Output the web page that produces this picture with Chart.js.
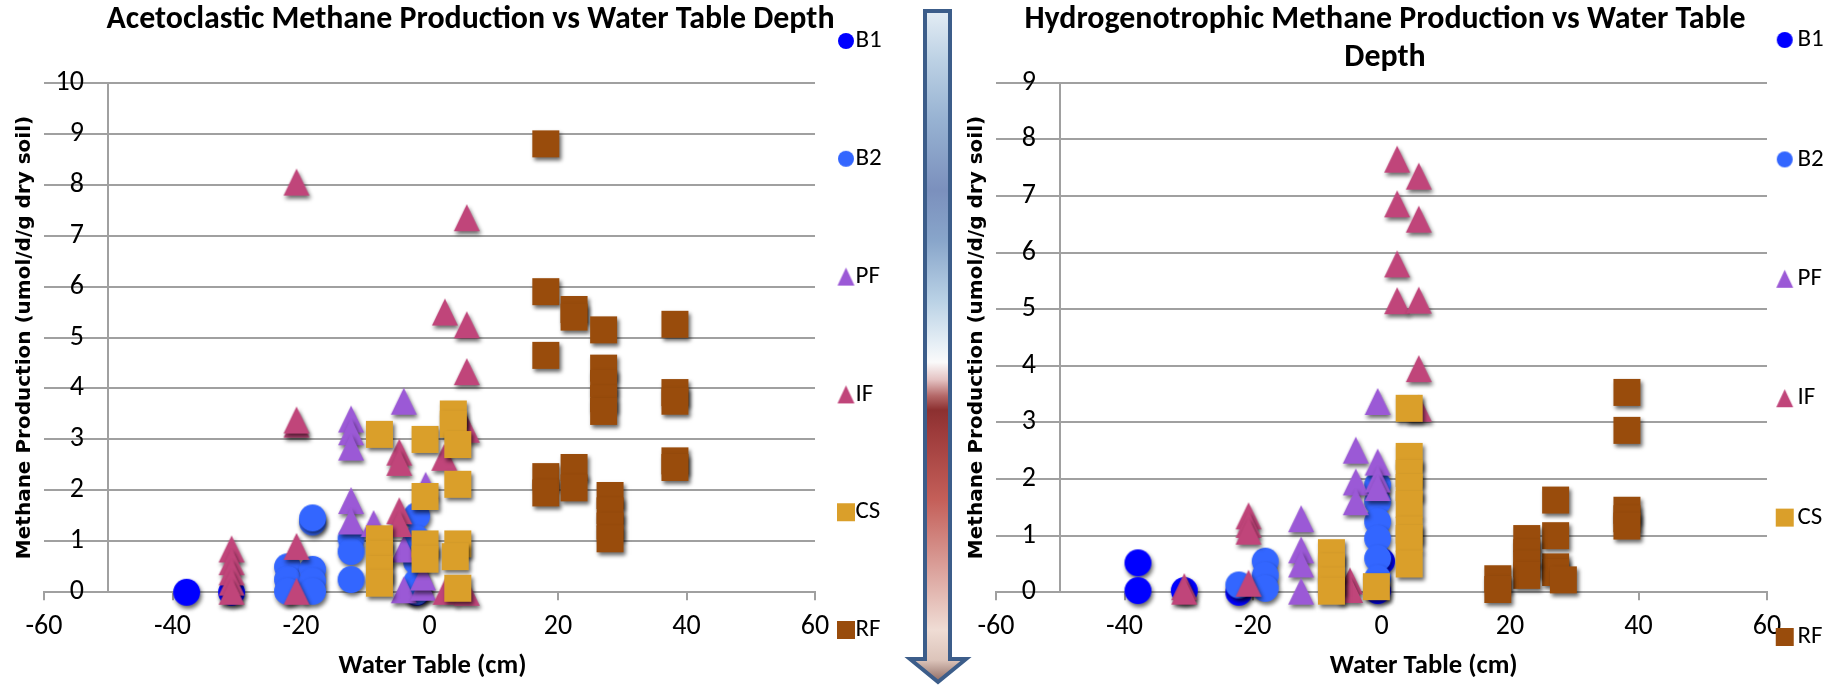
<!DOCTYPE html>
<html>
<head>
<meta charset="utf-8">
<script src="https://cdn.jsdelivr.net/npm/chart.js@4.4.1/dist/chart.umd.min.js"></script>
<style>
  html,body{margin:0;padding:0;background:#fff;}
  #wrap{position:relative;width:1833px;height:685px;overflow:hidden;}
  #c1{position:absolute;left:0;top:0;width:938px;height:685px;}
  #c2{position:absolute;left:937px;top:0;width:896px;height:685px;}
  #arrow{position:absolute;left:0;top:0;z-index:2;pointer-events:none;}
</style>
</head>
<body>
<div id="wrap">
  <canvas id="c1" width="938" height="685"></canvas>
  <canvas id="c2" width="896" height="685"></canvas>
  <svg id="arrow" width="1833" height="685">
    <defs>
      <linearGradient id="ag" gradientUnits="userSpaceOnUse" x1="0" y1="9" x2="0" y2="683">
        <stop offset="0.004" stop-color="#e3ecf4"/>
        <stop offset="0.076" stop-color="#bcd1e4"/>
        <stop offset="0.165" stop-color="#97b2d2"/>
        <stop offset="0.269" stop-color="#7b90bd"/>
        <stop offset="0.343" stop-color="#88a5ca"/>
        <stop offset="0.432" stop-color="#b9d1e5"/>
        <stop offset="0.499" stop-color="#e8f0f6"/>
        <stop offset="0.524" stop-color="#fafafa"/>
        <stop offset="0.55" stop-color="#e4c2c2"/>
        <stop offset="0.574" stop-color="#b46868"/>
        <stop offset="0.595" stop-color="#8c3030"/>
        <stop offset="0.625" stop-color="#9c3a3a"/>
        <stop offset="0.728" stop-color="#c45f59"/>
        <stop offset="0.832" stop-color="#dba29c"/>
        <stop offset="0.921" stop-color="#efdcd4"/>
        <stop offset="0.966" stop-color="#dcc4ba"/>
        <stop offset="1" stop-color="#8a665e"/>
      </linearGradient>
    </defs>
    <path d="M925,11 H950 V659 H966 L938,682 L910,659 H925 Z" fill="url(#ag)" stroke="#3c5d8a" stroke-width="4" stroke-linejoin="miter"/>
  </svg>
</div>
<script>
// ---- data : [water table (cm), methane production] ----
const seriesNames = ['B1','B2','PF','IF','CS','RF'];
const seriesColors = ['#0000ff','#3366ff','#9b59d6','#c0457a','#da9f2a','#994c0c'];
const seriesShapes = ['circle','circle','triangle','triangle','rect','rect'];

// acetoclastic
const aceB1 = [[-37.8,0],[-30.8,0],[-2,0]];
const aceB2 = [[-22.1,0.5],[-22.1,0.25],[-22.1,0.02],[-18.2,0.45],[-18.2,0.22],[-18.2,0.02],[-18.2,1.38],[-18.2,1.46],
  [-12.2,1.05],[-12.2,0.8],[-12.2,0.25],[-2,1.5],[-2,1.05],[-2,0.6],[-2,0.2],[-2,0.02]];
const acePF = [[-4,3.75],[-12.2,3.4],[-12.2,3.15],[-12.2,2.85],[-12.2,1.8],[-12.2,1.4],[-8.7,1.35],[-0.6,2.1],
  [-4,0.85],[-4,0.05],[-1,0.1],[-1,0.3]];
const aceIF = [[-20.7,8.05],[5.8,7.35],[2.4,5.5],[5.8,5.25],[5.8,4.33],[5.8,3.2],[-20.7,3.3],[-20.7,3.38],[-20.7,0.9],
  [-20.7,0.02],[-30.8,0.85],[-30.8,0.6],[-30.8,0.4],[-30.8,0.2],[-30.8,0.02],[-4.7,2.75],[-4.7,2.55],[-4.7,1.6],
  [-4.7,1.35],[2.3,2.65],[2.5,0.02],[5.8,0]];
const aceCS = [[-7.8,3.1],[-7.8,1.05],[-7.8,0.75],[-7.8,0.45],[-7.8,0.18],[-0.7,3.0],[-0.7,1.88],[-0.7,0.95],[-0.7,0.65],
  [3.7,3.5],[3.7,3.3],[4.4,2.9],[4.4,2.12],[4.4,0.95],[4.0,0.7],[4.4,0.08]];
const aceRF = [[18.1,8.8],[18.1,5.9],[22.5,5.55],[22.5,5.4],[27.1,5.15],[38.2,5.26],[18.1,4.65],[27.1,4.4],[27.1,4.1],
  [27.1,3.8],[27.1,3.55],[38.2,3.92],[38.2,3.75],[38.2,2.58],[38.2,2.45],[18.1,2.27],[18.1,1.95],[22.5,2.45],[22.5,2.05],
  [28.1,1.9],[28.1,1.6],[28.1,1.3],[28.1,1.05]];

// hydrogenotrophic
const hydB1 = [[-37.9,0.52],[-37.9,0.03],[-30.7,0.03],[-22.2,0],[0,0.55],[-0.6,0.03]];
const hydB2 = [[-18.1,0.55],[-18.1,0.3],[-18.1,0.07],[-22.2,0.13],[-0.6,1.9],[-0.6,1.6],[-0.6,1.25],[-0.6,0.95],
  [-0.6,0.6],[-0.6,0.25]];
const hydPF = [[-0.6,3.37],[-4,2.51],[-0.6,2.3],[-4,1.95],[-4,1.6],[-0.6,2.0],[-0.6,1.85],[-12.5,1.3],[-12.5,0.75],
  [-12.5,0.5],[-12.5,0.02]];
const hydIF = [[2.44,7.65],[5.8,7.35],[2.44,6.86],[5.8,6.59],[2.44,5.8],[2.44,5.15],[5.8,5.16],[5.8,3.95],[5.8,3.25],
  [-20.7,1.35],[-20.7,1.2],[-20.7,1.08],[-20.7,0.16],[-30.7,0.1],[-30.7,0.02],[-4.9,0.2],[-4.9,0.05]];
const hydCS = [[-7.8,0.7],[-7.8,0.45],[-7.8,0.2],[-7.8,0.02],[-0.8,0.1],[4.3,3.25],[4.3,2.4],[4.3,2.1],[4.3,1.85],
  [4.3,1.55],[4.3,1.1],[4.3,0.95],[4.3,0.5]];
const hydRF = [[38.2,3.53],[38.2,2.86],[38.2,1.45],[38.2,1.3],[38.2,1.17],[27.1,1.63],[27.1,1.0],[27.1,0.45],[27.1,0.35],
  [28.3,0.22],[22.6,0.95],[22.6,0.7],[22.6,0.5],[22.6,0.3],[18.1,0.24],[18.1,0.05]];

const xRange = [-60, 60];
const yCross = -50;      // vertical axis crosses here
const yLabelAt = -53.8;  // tick labels end here

const FONT = '"Carlito", "Liberation Sans", sans-serif';

// font size that makes a string a given width
const mctx = document.createElement('canvas').getContext('2d');
function fitSize(text, weight, width){
  mctx.font = weight + ' 100px ' + FONT;
  return 100 * width / mctx.measureText(text).width;
}

// ---- markers ----
function makeMark(shape, color, w, h, shadow){
  const pad = shadow ? 8 : 1;
  const c = document.createElement('canvas');
  c.width = Math.ceil(w + pad*2); c.height = Math.ceil(h + pad*2);
  const g = c.getContext('2d');
  if (shadow){ g.shadowColor='rgba(0,0,0,0.6)'; g.shadowBlur=4; g.shadowOffsetX=1.5; g.shadowOffsetY=3; }
  g.fillStyle = color;
  const cx = c.width/2, cy = c.height/2;
  g.beginPath();
  if (shape==='circle') g.ellipse(cx, cy, w/2, h/2, 0, 0, Math.PI*2);
  else if (shape==='triangle'){ g.moveTo(cx, cy-h/2); g.lineTo(cx+w/2, cy+h/2); g.lineTo(cx-w/2, cy+h/2); g.closePath(); }
  else g.rect(cx-w/2, cy-h/2, w, h);
  g.fill();
  return c;
}
const plotMarks = seriesShapes.map((s,i)=> s==='triangle' ? makeMark(s, seriesColors[i], 26, 27, true) : makeMark(s, seriesColors[i], 27, 27, true));
const legendMarks = seriesShapes.map((s,i)=> s==='circle' ? makeMark(s, seriesColors[i], 16, 16, false)
  : s==='triangle' ? makeMark(s, seriesColors[i], 17, 18, false) : makeMark(s, seriesColors[i], 18, 18, false));

// legend down the right side, items spread over the full height
const sideLegend = {
  id:'sideLegend',
  afterDraw(chart, args, o){
    const ctx = chart.ctx;
    ctx.save();
    ctx.font = '25px ' + FONT;
    ctx.fillStyle = '#000'; ctx.textBaseline = 'middle'; ctx.textAlign = 'left';
    chart.data.datasets.forEach((ds,i)=>{
      const y = o.y0 + i*o.dy, m = legendMarks[i];
      ctx.drawImage(m, o.x - m.width/2, y - m.height/2);
      ctx.fillText(ds.label, o.tx, y);
    });
    ctx.restore();
  }
};

Chart.defaults.font.family = FONT;
const xTitleSize = fitSize('Water Table (cm)', 'bold', 188);

function buildChart(el, o){
  const grey = '#a0a0a0';
  return new Chart(el, {
    type:'scatter',
    data:{datasets: o.data.map((d,i)=>({
      label: seriesNames[i], data: d.map(([x,y])=>({x,y})),
      pointStyle: plotMarks[i], pointRadius: 13, pointHoverRadius: 13,
      order: seriesNames.length - i, clip: false, yAxisID:'y', xAxisID:'x'
    }))},
    options:{
      responsive:false, animation:false, events:[],
      layout:{padding:{left:o.padLeft, right:0, top:0, bottom:0}},
      plugins:{
        legend:{display:false}, tooltip:{enabled:false},
        title:{display:true, text:o.title, color:'#000',
          font:{size:o.titleSize, weight:'bold', lineHeight:o.titleLH}, padding:o.titlePad},
        sideLegend:{x:o.legX, tx:o.legTX, y0:o.legY0, dy:o.legDY}
      },
      scales:{
        x:{type:'linear', position:'bottom', min:xRange[0], max:xRange[1],
          afterFit:s=>{ s.height = 92.7; },
          ticks:{stepSize:20, padding:10.1, color:'#000', font:{size:28}},
          grid:{drawOnChartArea:false, drawTicks:true, tickLength:8, color:grey, lineWidth:2},
          border:{color:grey, width:2},
          title:{display:true, text:o.xTitle, color:'#000', font:{size:xTitleSize, weight:'bold', lineHeight:1.2},
            padding:{top:0, bottom:2.8}}},
        y:{type:'linear', position:{x:yCross}, min:0, max:o.yMax,
          ticks:{display:false, stepSize:1},
          grid:{color:grey, lineWidth:2, tickLength:8},
          border:{color:grey, width:2}},
        yLabels:{type:'linear', position:{x:yLabelAt}, min:0, max:o.yMax,
          ticks:{stepSize:1, padding:0, color:'#000', font:{size:28}},
          grid:{display:false, drawTicks:false}, border:{display:false}},
        yTitle:{type:'linear', position:'left', display:true, min:0, max:1,
          afterFit:s=>{ s.width = o.yTitleW; },
          ticks:{display:false}, grid:{display:false, drawTicks:false}, border:{display:false},
          title:{display:true, text:'Methane Production (umol/d/g dry soil)', color:'#000',
            font:{family:'"DejaVu Sans", sans-serif', size:20, weight:'bold', lineHeight:1.2},
            padding:{top:o.yTitlePadT, bottom:0}}},
        spacer:{type:'linear', position:'right', display:true, min:0, max:1,
          afterFit:s=>{ s.width = o.spacerW; },
          ticks:{display:false}, grid:{display:false, drawTicks:false}, border:{display:false}}
      }
    },
    plugins:[sideLegend]
  });
}

const aceTitle = 'Acetoclastic Methane Production vs Water Table Depth';
const aceTitleSize = fitSize(aceTitle, 'bold', 728.5);
buildChart(document.getElementById('c1'), {
  data:[aceB1, aceB2, acePF, aceIF, aceCS, aceRF], yMax:10,
  title:aceTitle, titleSize:aceTitleSize, titleLH:1.2,
  titlePad:{top:19.9 - aceTitleSize*0.6, bottom:82.7 - (19.9 - aceTitleSize*0.6) - aceTitleSize*1.2},
  xTitle:'\u00a0Water Table (cm)',
  padLeft:3, yTitleW:41, yTitlePadT:10, spacerW:123,
  legX:846, legTX:855.5, legY0:41, legDY:117.8
});

const hydTitle = ['Hydrogenotrophic Methane Production vs Water Table','Depth'];
const hydTitleSize = fitSize(hydTitle[0], 'bold', 721.5);
buildChart(document.getElementById('c2'), {
  data:[hydB1, hydB2, hydPF, hydIF, hydCS, hydRF], yMax:9,
  title:hydTitle, titleSize:hydTitleSize, titleLH:'38.6px',
  titlePad:{top:0.6, bottom:4.9},
  xTitle:'\u00a0'.repeat(14) + 'Water Table (cm)',
  padLeft:0, yTitleW:59, yTitlePadT:27.6, spacerW:66,
  legX:847.7, legTX:860.5, legY0:40, legDY:119.4
});
</script>
</body>
</html>
